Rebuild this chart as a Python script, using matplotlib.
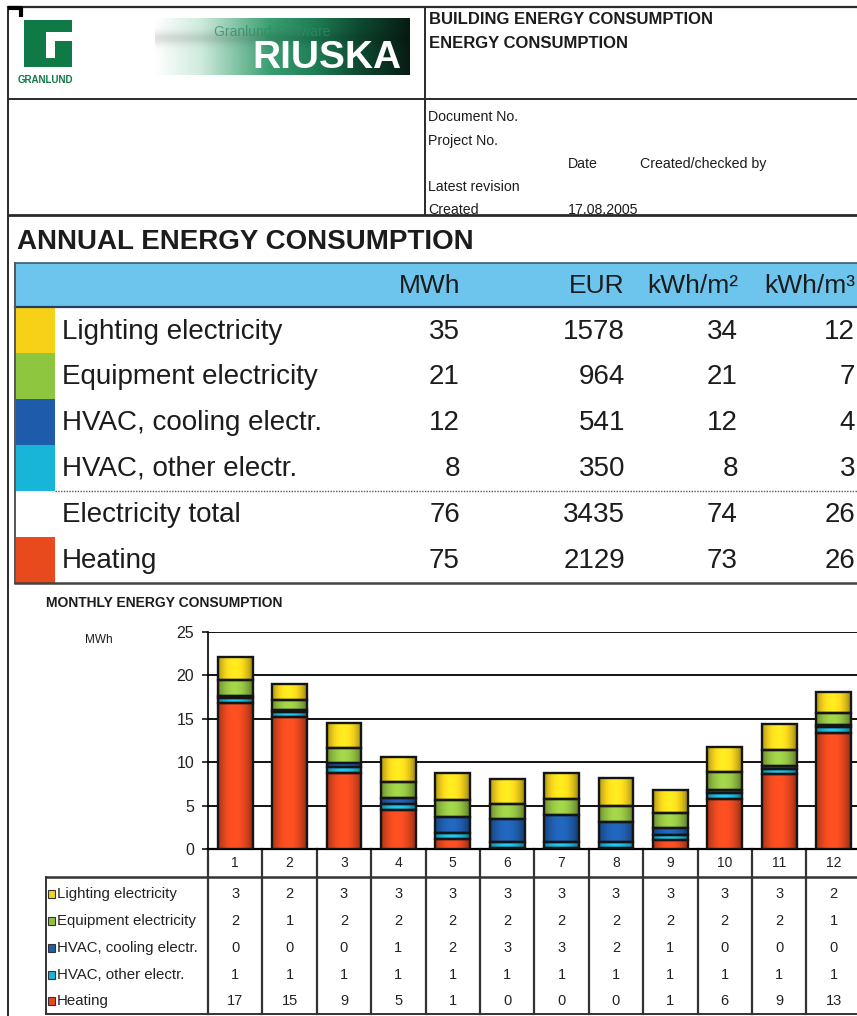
import numpy as np
import matplotlib
matplotlib.use("Agg")
import matplotlib.pyplot as plt
from matplotlib.patches import Rectangle
from matplotlib.transforms import blended_transform_factory
from matplotlib.colors import to_rgb

plt.rcParams['font.family'] = ['Liberation Sans', 'DejaVu Sans']

# ---------------- data ----------------
series_names = ["Lighting electricity", "Equipment electricity",
                "HVAC, cooling electr.", "HVAC, other electr.", "Heating"]
series_colors = ["#F4D41C", "#93C142", "#1F5DAD", "#1BB4D8", "#E8481F"]

months = list(range(1, 13))
lighting = [2.64, 1.84, 2.85, 2.9, 3.1, 2.85, 3.0, 3.16, 2.7, 2.9, 3.0, 2.4]
equipment = [1.86, 1.07, 1.75, 1.8, 2.0, 1.7, 1.85, 1.83, 1.66, 2.0, 1.8, 1.35]
cooling = [0.25, 0.3, 0.45, 0.75, 1.9, 2.7, 3.15, 2.3, 0.85, 0.4, 0.35, 0.3]
other = [0.55, 0.55, 0.65, 0.6, 0.7, 0.7, 0.7, 0.75, 0.6, 0.7, 0.6, 0.6]
heating = [16.85, 15.2, 8.8, 4.55, 1.1, 0.1, 0.1, 0.1, 1.0, 5.75, 8.6, 13.4]

annual_labels = ["Lighting electricity", "Equipment electricity",
                 "HVAC, cooling electr.", "HVAC, other electr.",
                 "Electricity total", "Heating"]
annual_colors = ["#F7D117", "#8EC63F", "#1E5BAA", "#19B5D9", "#FFFFFF", "#E84A1E"]
annual_columns = ["MWh", "EUR", "kWh/m²", "kWh/m³"]
annual_mwh = [35, 21, 12, 8, 76, 75]
annual_eur = [1578, 964, 541, 350, 3435, 2129]
annual_kwh_m2 = [34, 21, 12, 8, 74, 73]
annual_kwh_m3 = [12, 7, 4, 3, 26, 26]

y_ticks = [0, 5, 10, 15, 20, 25]

# ---------------- page ----------------
W, H = 857, 1016
fig = plt.figure(figsize=(W / 100, H / 100), dpi=100)
page = fig.add_axes([0, 0, 1, 1])
page.set_xlim(0, W)
page.set_ylim(H, 0)
page.axis("off")

dark = "#2a2a2a"
txt = "#1c1c1c"

# frame lines
page.plot([8, W], [7, 7], color=dark, lw=1.6)
page.plot([8, 8], [7, H], color=dark, lw=1.4)
page.plot([425, 425], [7, 215], color=dark, lw=1.4)
page.plot([8, W], [99, 99], color=dark, lw=1.4)
page.plot([8, W], [215, 215], color=dark, lw=2.0)
page.plot([8, 21, 21], [8, 8, 17], color="black", lw=3.0, solid_capstyle="butt")

# Granlund logo mark
g_green = "#0F7A46"
page.add_patch(Rectangle((24, 20), 48, 47, color=g_green, lw=0))
page.add_patch(Rectangle((46, 32), 27, 9, color="white", lw=0))
page.add_patch(Rectangle((46, 32), 9, 26, color="white", lw=0))
page.text(18, 80, "GRANLUND", fontsize=7, fontweight="bold", color=g_green,
          va="center", ha="left")

# RIUSKA banner with green fade
stops = [(0.0, "#FFFFFF"), (0.18, "#CFEBDD"), (0.45, "#3A9E71"),
         (0.62, "#1F7F55"), (0.8, "#0F4A31"), (1.0, "#071C13")]
xs = np.linspace(0, 1, 300)
cols = np.zeros((300, 3))
for ch in range(3):
    cols[:, ch] = np.interp(xs, [s[0] for s in stops],
                            [to_rgb(s[1])[ch] for s in stops])
rows = np.linspace(0, 1, 60)
shade = 1.0 - 0.12 * np.exp(-((rows - 0.35) / 0.12) ** 2)
banner = cols[None, :, :] * shade[:, None, None]
page.imshow(np.clip(banner, 0, 1), extent=[155, 410, 75, 18], aspect="auto",
            interpolation="bilinear", zorder=1)
page.text(272, 32, "Granlund Software", fontsize=10, color="#2F8C62",
          alpha=0.75, ha="center", va="center", zorder=2)
page.text(327, 58, "RIUSKA", fontsize=28, fontweight="bold", color="white",
          ha="center", va="center", zorder=3)

# header texts
page.text(429, 20, "BUILDING ENERGY CONSUMPTION", fontsize=12, fontweight="bold",
          color=txt, va="center")
page.text(429, 43, "ENERGY CONSUMPTION", fontsize=12, fontweight="bold",
          color=txt, va="center")
doc_fs = 10.2
for label, yy in [("Document No.", 117), ("Project No.", 141),
                  ("Latest revision", 187), ("Created", 210)]:
    page.text(428, yy, label, fontsize=doc_fs, color=txt, va="center")
page.text(568, 164, "Date", fontsize=doc_fs, color=txt, va="center")
page.text(640, 164, "Created/checked by", fontsize=doc_fs, color=txt, va="center")
page.text(568, 210, "17.08.2005", fontsize=doc_fs, color=txt, va="center")

# ---------------- annual table ----------------
page.text(17, 242, "ANNUAL ENERGY CONSUMPTION", fontsize=20, fontweight="bold",
          color=txt, va="center")
page.add_patch(Rectangle((15, 263), W - 15, 44, facecolor="#6DC5EE",
                         edgecolor="none", zorder=1))
page.plot([15, W], [263, 263], color="#3a5a78", lw=1.2)
page.plot([15, W], [307, 307], color="#23405e", lw=1.6)
col_right = [460, 625, 738, 855]
for name, xr in zip(annual_columns, col_right):
    page.text(xr, 286, name, fontsize=19, color=txt, ha="right", va="center")

row_top = [308, 353, 399, 445, 491, 537]
row_h = 45.5
for i, label in enumerate(annual_labels):
    y0 = row_top[i]
    page.add_patch(Rectangle((16, y0), 39, row_h, facecolor=annual_colors[i],
                             edgecolor="none", zorder=1))
    yc = y0 + row_h / 2 + 1
    page.text(62, yc, label, fontsize=20, color=txt, va="center")
    values = [annual_mwh[i], annual_eur[i], annual_kwh_m2[i], annual_kwh_m3[i]]
    for v, xr in zip(values, col_right):
        page.text(xr, yc, f"{v}", fontsize=20, color=txt, ha="right", va="center")
page.plot([15, 15], [263, 583], color="#555555", lw=1.4)
page.plot([55, W], [490.5, 490.5], color="#555555", lw=1.0, ls=(0, (1, 1)))
page.plot([15, W], [583, 583], color="#444444", lw=1.8)

# ---------------- monthly chart ----------------
page.text(46, 603, "MONTHLY ENERGY CONSUMPTION", fontsize=10, fontweight="bold",
          color=txt, va="center")
page.text(85, 640, "MWh", fontsize=8.5, color=txt, va="center")

ax_left, ax_w = 208 / W, 12 * 54.4 / W
ax_bottom, ax_h = 1 - 849 / H, (849 - 632) / H
ax = fig.add_axes([ax_left, ax_bottom, ax_w, ax_h])
ax.patch.set_alpha(0)
ax.set_xlim(0.5, 12.5)
ax.set_ylim(0, 25)
ax.set_yticks(y_ticks)
ax.set_yticklabels([str(t) for t in y_ticks], fontsize=11.5, color="#222222")
ax.set_xticks([])
ax.tick_params(axis="y", direction="out", length=4, width=1.1, pad=6)
for s in ["top", "right"]:
    ax.spines[s].set_visible(False)
ax.spines["left"].set_linewidth(1.2)
ax.spines["bottom"].set_linewidth(1.6)
for t in y_ticks[1:]:
    ax.axhline(t, color="black", lw=1.3, zorder=1)

stack = [heating, other, cooling, equipment, lighting]
stack_colors = [series_colors[4], series_colors[3], series_colors[2],
                series_colors[1], series_colors[0]]
bar_w = 0.64
bottom = np.zeros(12)
xg = np.linspace(0, 1, 64)
profile = 0.70 + 0.42 * np.sin(np.pi * np.clip(xg * 1.05, 0, 1)) ** 0.8
for vals, col in zip(stack, stack_colors):
    vals = np.asarray(vals)
    bars = ax.bar(months, vals, bar_w, bottom=bottom, color=col,
                  edgecolor="none", zorder=2)
    rgb = np.array(to_rgb(col))
    grad = np.clip(rgb[None, None, :] * profile[None, :, None], 0, 1)
    for b in bars:
        x0, y0 = b.get_x(), b.get_y()
        im = ax.imshow(grad, extent=[x0, x0 + b.get_width(), y0, y0 + b.get_height()],
                       aspect="auto", interpolation="bilinear", zorder=3)
        im.set_clip_path(b)
    ax.bar(months, vals, bar_w, bottom=bottom, fill=False,
           edgecolor="#151515", linewidth=1.7, zorder=4)
    bottom += vals

# ---------------- data table under the chart ----------------
tr = blended_transform_factory(ax.transData, page.transData)
bounds = np.arange(0.5, 13.0, 1.0)
for xb in bounds:
    page.plot([xb, xb], [849, 1014], color="#333333", lw=1.6, transform=tr,
              clip_on=False)
for m in months:
    page.text(m, 863, str(m), fontsize=10, color="#222222", ha="center",
              va="center", transform=tr)
page.plot([46, W], [877, 877], color="#333333", lw=1.8)
page.plot([46, W], [1014, 1014], color="#333333", lw=1.4)
page.plot([46, 46], [877, 1014], color="#333333", lw=1.4)

table_series = [lighting, equipment, cooling, other, heating]
row_y = [894, 921, 948, 975, 1001]
for name, col, vals, yy in zip(series_names, series_colors, table_series, row_y):
    page.add_patch(Rectangle((48, yy - 3.8), 7.5, 7.5, facecolor=col,
                             edgecolor="#333333", lw=0.8))
    page.text(57, yy, name, fontsize=10.8, color="#222222", va="center")
    for m, v in zip(months, vals):
        page.text(m, yy, f"{v:.0f}", fontsize=10.5, color="#222222",
                  ha="center", va="center", transform=tr)

fig.savefig("out.png", dpi=100)
